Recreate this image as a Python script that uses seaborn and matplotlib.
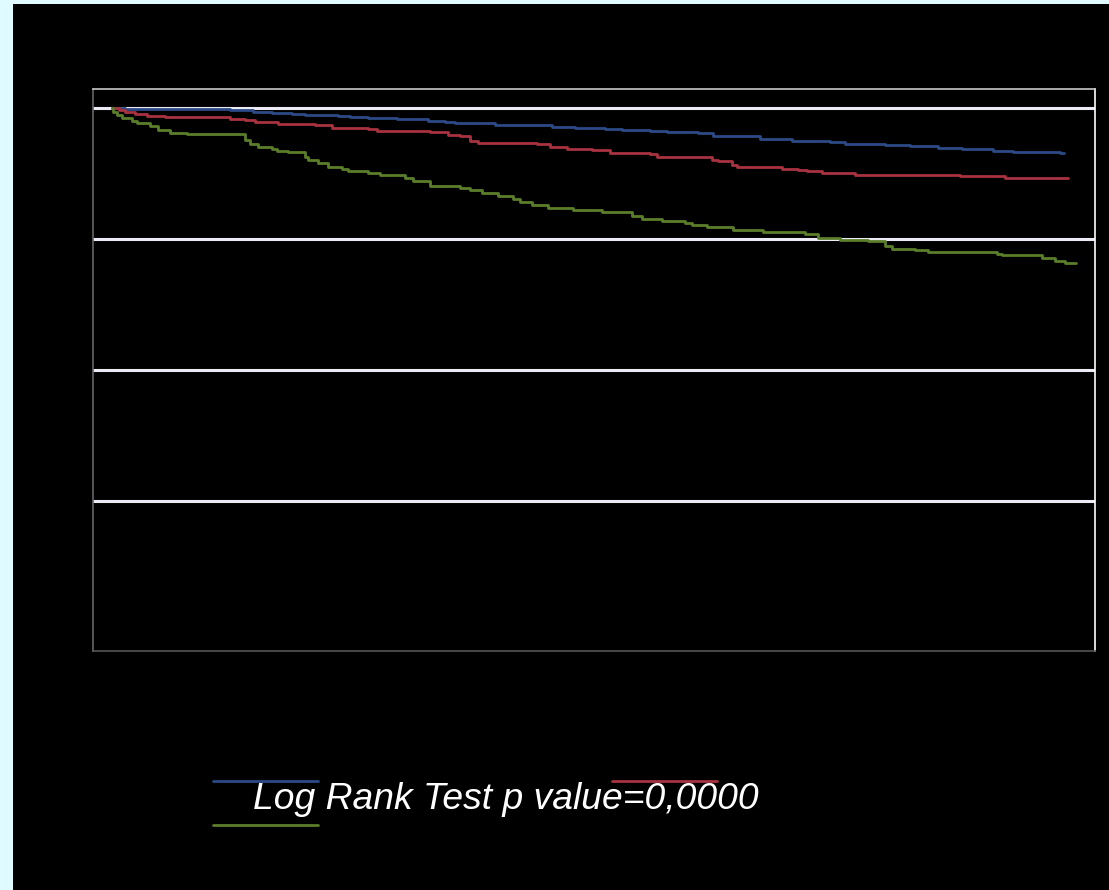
import matplotlib
matplotlib.use("Agg")
import matplotlib.pyplot as plt
import matplotlib.patches as mpatches
import numpy as np
import pandas as pd
import seaborn as sns

# Kaplan-Meier survival estimates (months, % surviving) for three groups
months_a = [0, 0.50, 4.41, 5.27, 5.97, 6.72, 7.20, 8.43, 8.88, 9.55, 10.63, 11.79,
            12.42, 12.79, 14.28, 16.41, 17.26, 18.38, 19.02, 20.06, 20.70, 21.85,
            22.41, 24.16, 25.35, 26.77, 27.33, 28.82, 29.75, 30.79, 31.69, 32.84,
            33.59, 35.15, 35.34, 35.50]
surv_a = [100, 99.95, 99.87, 99.74, 99.64, 99.53, 99.47, 99.41, 99.36, 99.24, 99.18,
          99.05, 98.93, 98.85, 98.75, 98.60, 98.50, 98.44, 98.34, 98.29, 98.21, 98.09,
          97.89, 97.66, 97.50, 97.40, 97.30, 97.22, 97.10, 96.99, 96.92, 96.76, 96.69,
          96.63, 96.56, 96.56]

months_b = [0, 0.27, 0.50, 0.87, 1.32, 1.99, 4.41, 4.97, 5.34, 6.20, 7.58, 8.21, 9.55,
            9.89, 11.86, 12.53, 12.98, 13.35, 13.65, 15.85, 16.33, 16.97, 17.90, 18.57,
            20.06, 20.32, 22.37, 22.59, 23.12, 23.30, 24.98, 25.58, 25.91, 26.47, 27.70,
            31.61, 33.29, 35.64]
surv_b = [100, 99.87, 99.74, 99.56, 99.44, 99.31, 99.18, 99.08, 98.95, 98.82, 98.70,
          98.50, 98.40, 98.27, 98.17, 97.98, 97.86, 97.53, 97.37, 97.27, 97.07, 96.92,
          96.82, 96.61, 96.51, 96.28, 96.05, 95.95, 95.67, 95.50, 95.39, 95.27, 95.19,
          95.06, 94.91, 94.81, 94.70, 94.70]

months_c = [0, 0.05, 0.20, 0.38, 0.76, 0.94, 1.43, 1.73, 2.17, 2.81, 4.97, 5.15, 5.45,
            5.97, 6.16, 6.57, 7.20, 7.32, 7.69, 8.06, 8.58, 8.81, 9.55, 10.00, 10.93,
            11.23, 11.86, 12.98, 13.35, 13.80, 14.40, 14.95, 15.21, 15.66, 16.26, 17.19,
            18.27, 19.39, 19.76, 20.51, 21.36, 21.62, 22.18, 23.15, 24.27, 25.84, 26.32,
            27.14, 28.18, 28.82, 29.08, 29.94, 30.42, 32.99, 33.18, 34.67, 35.15, 35.52,
            35.93]
surv_c = [100, 99.74, 99.49, 99.24, 99.03, 98.85, 98.65, 98.34, 98.14, 98.02, 97.58,
          97.27, 97.07, 96.89, 96.74, 96.64, 96.31, 96.05, 95.80, 95.54, 95.34, 95.24,
          95.04, 94.89, 94.66, 94.45, 94.09, 93.94, 93.76, 93.53, 93.28, 93.08, 92.82,
          92.62, 92.41, 92.26, 92.06, 91.78, 91.55, 91.42, 91.27, 91.09, 90.96, 90.71,
          90.56, 90.38, 90.12, 89.95, 89.85, 89.51, 89.28, 89.16, 89.03, 88.88, 88.78,
          88.57, 88.34, 88.17, 88.17]

groups = ["A", "B", "C"]
x_ticks = [0, 12, 24, 36]
y_ticks = [60, 70, 80, 90, 100]
annotation = "Log Rank Test p value=0,0000"

palette = {"A": "#2c4a86", "B": "#a8323f", "C": "#5b7e2b"}

df = pd.concat([
    pd.DataFrame({"month": m, "survival": s, "group": g})
    for g, m, s in zip(groups, [months_a, months_b, months_c], [surv_a, surv_b, surv_c])
], ignore_index=True)

sns.set_theme(style="white")
plt.rcParams["font.family"] = ["Liberation Sans", "DejaVu Sans"]

fig = plt.figure(figsize=(11.09, 8.90), dpi=100, facecolor="#e0fbff")
# black canvas behind the chart
fig.patches.append(mpatches.Rectangle((13 / 1109, 0), 1, 1 - 4 / 890,
                                      transform=fig.transFigure, facecolor="black",
                                      edgecolor="none", zorder=-5))

ax = fig.add_axes([93 / 1109, 1 - 651 / 890, 1002 / 1109, 562 / 890])
ax.set_facecolor("black")

for y in y_ticks[1:]:
    ax.axhline(y, color="#eceaf4", lw=2.2, zorder=1)

sns.lineplot(data=df, x="month", y="survival", hue="group", palette=palette,
             estimator=None, sort=False, drawstyle="steps-post", lw=2.0,
             legend=False, ax=ax, zorder=3)

ax.set_xlim(-0.697, 36.65)
ax.set_ylim(58.57, 101.47)
ax.set_xticks(x_ticks)
ax.set_yticks(y_ticks)
ax.tick_params(axis="both", direction="in", length=3, width=1, color="#555555",
               labelcolor="black", labelsize=12)
ax.set_xlabel("")
ax.set_ylabel("")
ax.grid(False)

ax.spines["left"].set_color("#666666")
ax.spines["bottom"].set_color("#555555")
ax.spines["top"].set_color("#c8c8c8")
ax.spines["right"].set_color("#ffffff")
for sp in ax.spines.values():
    sp.set_linewidth(1.2)

lines = ax.get_lines()[len(y_ticks) - 1:]
handles = [lines[0], lines[2], lines[1]]
fig.legend(handles, ["", "", ""], loc="upper left",
           bbox_to_anchor=(213 / 1109, 1 - 771 / 890), ncol=2, fontsize=20,
           handlelength=3.78, handletextpad=0.0, columnspacing=10.58,
           labelspacing=0.63, borderpad=0.0, borderaxespad=0.0, frameon=False)

fig.text(253 / 1109, 1 - 809 / 890, annotation, color="white", fontsize=26.8,
         style="italic", ha="left", va="baseline")

fig.savefig("out.png", dpi=100, facecolor=fig.get_facecolor())
